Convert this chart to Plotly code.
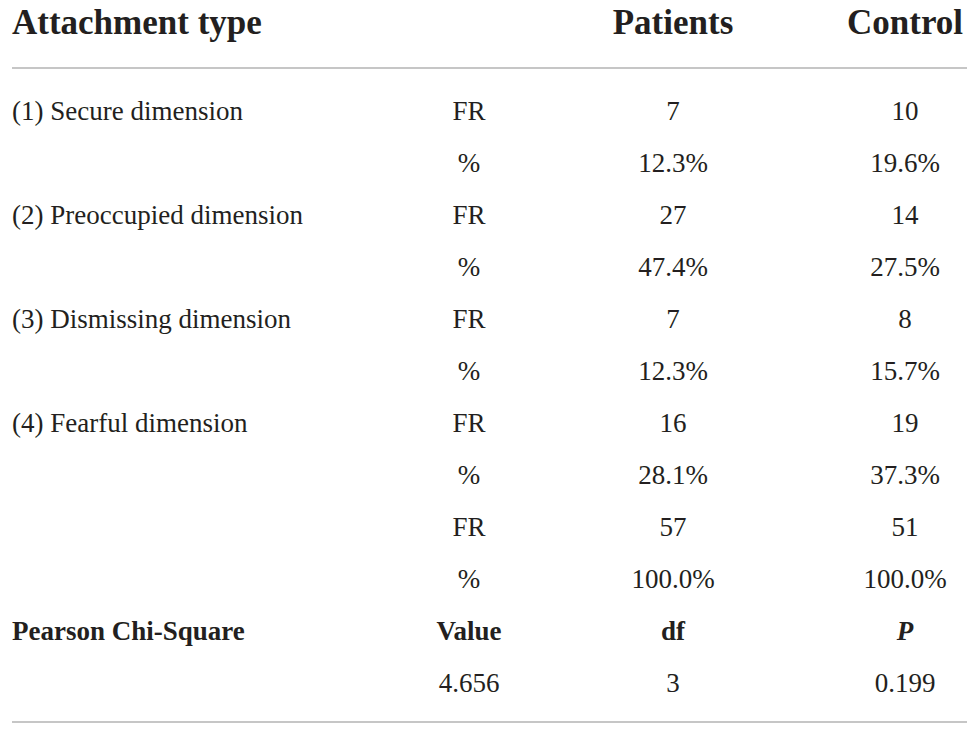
import plotly.graph_objects as go

# table content
header = ["Attachment type", "", "Patients", "Control"]
attachment_types = ["(1) Secure dimension", "(2) Preoccupied dimension",
                    "(3) Dismissing dimension", "(4) Fearful dimension", ""]
stat_kinds = ["FR", "%"]
patients_fr = [7, 27, 7, 16, 57]
control_fr = [10, 14, 8, 19, 51]
patients_pct = [12.3, 47.4, 12.3, 28.1, 100.0]
control_pct = [19.6, 27.5, 15.7, 37.3, 100.0]
chi_header = ["Pearson Chi-Square", "Value", "df", "<i>P</i>"]
chi_value = [4.656]
chi_df = [3]
chi_p = [0.199]

# build rows: label, kind, patients, control
rows = []
for i, name in enumerate(attachment_types):
    rows.append([name, stat_kinds[0], str(patients_fr[i]), str(control_fr[i])])
    rows.append(["", stat_kinds[1], f"{patients_pct[i]:.1f}%", f"{control_pct[i]:.1f}%"])
rows.append(["<b>" + chi_header[0] + "</b>"] + ["<b>" + h + "</b>" for h in chi_header[1:]])
rows.append(["", f"{chi_value[0]:.3f}", str(chi_df[0]), f"{chi_p[0]:.3f}"])

# layout in pixel units
W, H = 979, 736
col_x = [12, 469, 673, 905]
head_y = 25
row_y0, row_step = 113, 52
ink = "#231f20"
rule = "#b3b3b3"
serif = "Liberation Serif, Times New Roman, serif"
body_font = dict(family=serif, size=27, color=ink)
head_font = dict(family=serif, size=35, color=ink)

fig = go.Figure()

# header
fig.add_trace(go.Scatter(x=[col_x[0]], y=[head_y], mode="text",
                         text=["<b>" + header[0] + "</b>"], textposition="middle right",
                         textfont=head_font, hoverinfo="skip", showlegend=False))
fig.add_trace(go.Scatter(x=col_x[2:], y=[head_y] * 2, mode="text",
                         text=["<b>" + h + "</b>" for h in header[2:]], textposition="middle center",
                         textfont=head_font, hoverinfo="skip", showlegend=False))

# body
ys = [row_y0 + row_step * i for i in range(len(rows))]
fig.add_trace(go.Scatter(x=[col_x[0]] * len(rows), y=ys, mode="text",
                         text=[r[0] for r in rows], textposition="middle right",
                         textfont=body_font, hoverinfo="skip", showlegend=False))
for c in range(1, 4):
    fig.add_trace(go.Scatter(x=[col_x[c]] * len(rows), y=ys, mode="text",
                             text=[r[c] for r in rows], textposition="middle center",
                             textfont=body_font, hoverinfo="skip", showlegend=False))

# horizontal rules
for yy in [68, 722]:
    fig.add_shape(type="line", x0=12, x1=967, y0=yy, y1=yy,
                  line=dict(color=rule, width=1.5))

fig.update_traces(cliponaxis=False)
fig.update_xaxes(range=[0, W], visible=False, fixedrange=True)
fig.update_yaxes(range=[H, 0], visible=False, fixedrange=True)
fig.update_layout(width=W, height=H, margin=dict(l=0, r=0, t=0, b=0),
                  paper_bgcolor="white", plot_bgcolor="white")

fig.write_html("out.html", config={"displayModeBar": False},
               post_script="document.body.style.margin='0';document.body.style.overflow='hidden';")
